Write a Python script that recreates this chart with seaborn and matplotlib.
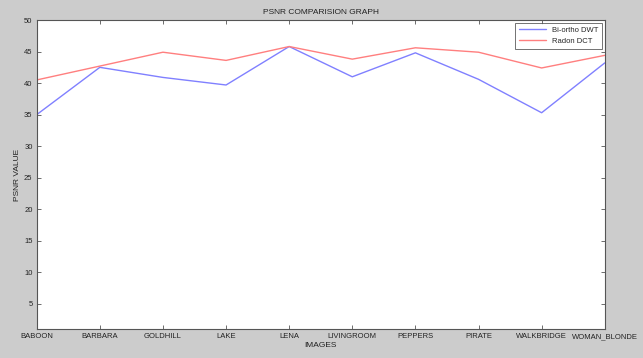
import matplotlib.pyplot as plt
import seaborn as sns
import pandas as pd
import numpy as np

images = ['BABOON', 'BARBARA', 'GOLDHILL', 'LAKE', 'LENA', 'LIVINGROOM',
          'PEPPERS', 'PIRATE', 'WALKBRIDGE', 'WOMAN_BLONDE']
biortho_dwt = [35.0, 42.5, 40.9, 39.7, 45.8, 41.0, 44.8, 40.6, 35.3, 43.2]
radon_dct = [40.5, 42.7, 44.9, 43.6, 45.8, 43.8, 45.6, 44.9, 42.4, 44.4]
y_ticks = [5, 10, 15, 20, 25, 30, 35, 40, 45, 50]

df = pd.DataFrame({
    'image': images * 2,
    'idx': list(range(len(images))) * 2,
    'psnr': biortho_dwt + radon_dct,
    'method': ['Bi-ortho DWT'] * len(images) + ['Radon DCT'] * len(images),
})

sns.set_style('white')
plt.rcParams['font.family'] = ['Liberation Sans', 'DejaVu Sans']

fig = plt.figure(figsize=(6.43, 3.58), dpi=100)
fig.patch.set_facecolor('#cccccc')
ax = fig.add_axes([0.0571, 0.081, 0.8834, 0.863])

sns.lineplot(data=df, x='idx', y='psnr', hue='method',
             palette={'Bi-ortho DWT': '#8080ff', 'Radon DCT': '#ff7f7f'},
             linewidth=1.0, ax=ax)

ax.set_xlim(0, len(images) - 1)
ax.set_ylim(1.0, 50)
ax.set_xticks(range(len(images)))
ax.set_xticklabels(images, fontsize=5.5, color='#222222')
ax.set_yticks(y_ticks)
ax.set_yticklabels(y_ticks, fontsize=5.5, color='#222222')
ax.tick_params(direction='in', length=3, width=0.6, color='#555555',
               top=True, right=True, left=True, bottom=True, pad=3)
for s in ax.spines.values():
    s.set_color('#555555')
    s.set_linewidth(0.8)

ax.set_title('PSNR COMPARISION GRAPH', fontsize=6, pad=4, color='#222222')
ax.set_xlabel('IMAGES', fontsize=6, labelpad=1, color='#222222')
ax.set_ylabel('PSNR VALUE', fontsize=6, labelpad=2, color='#222222')

leg = ax.legend(loc='upper right', fontsize=5.5, frameon=True, fancybox=False,
                edgecolor='#333333', borderpad=0.5, handlelength=3.5,
                labelspacing=0.5, borderaxespad=0.35)
leg.get_frame().set_linewidth(0.6)

fig.savefig('out.png', dpi=100, facecolor=fig.get_facecolor())
